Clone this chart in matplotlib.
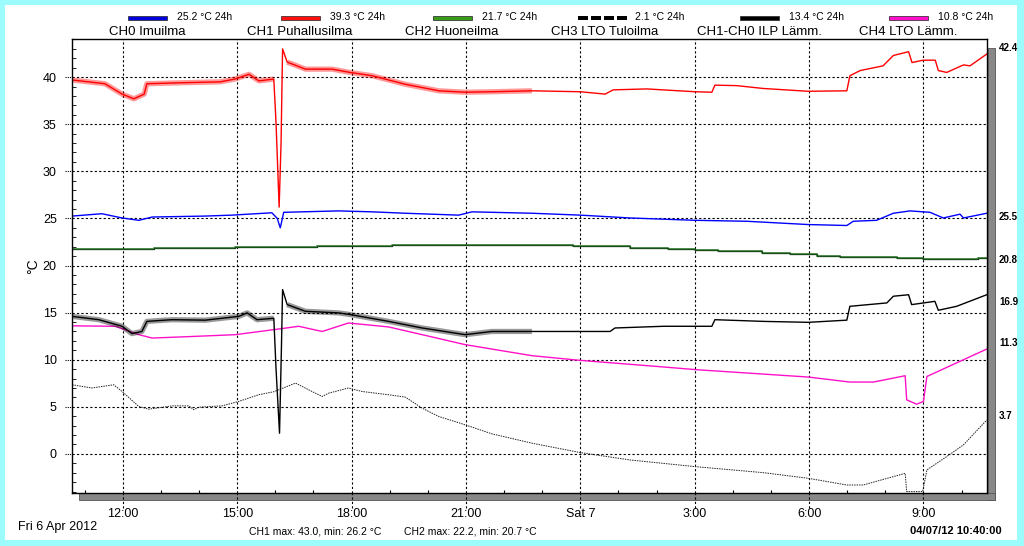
import matplotlib
matplotlib.use('Agg')
from matplotlib import pyplot as plt
from matplotlib.patches import Rectangle
from matplotlib.transforms import blended_transform_factory
import numpy as np

plt.rcParams['font.family'] = ['Liberation Sans', 'DejaVu Sans']

# time axis in hours of Fri 6 Apr (24 = Sat 7 0:00), window 10:40 .. 10:40
t_start = 10 + 40 / 60
t_end = t_start + 24

# CH0 Imuilma (blue)
ch0_t = [10.67, 11.45, 11.98, 12.42, 12.77, 14.16, 14.86, 15.91, 16.05, 16.13, 16.22,
         17.66, 18.54, 19.41, 20.81, 21.16, 22.73, 24.0, 25.3, 27.01, 28.36, 29.98,
         30.99, 31.16, 31.77, 32.21, 32.65, 33.17, 33.52, 33.96, 34.05, 34.66]
ch0_v = [25.25, 25.5, 25.05, 24.8, 25.15, 25.25, 25.35, 25.6, 25.0, 24.0, 25.65,
         25.8, 25.7, 25.55, 25.35, 25.7, 25.55, 25.35, 25.05, 24.8, 24.7, 24.35,
         24.25, 24.7, 24.8, 25.55, 25.8, 25.65, 25.05, 25.45, 25.05, 25.55]

# CH1 Puhallusilma (red)
ch1_t = [10.67, 11.53, 11.98, 12.29, 12.56, 12.63, 13.5, 14.55, 14.94, 15.31, 15.57,
         15.96, 16.02, 16.10, 16.15, 16.19, 16.31, 16.79, 17.49, 17.96, 18.54, 19.40,
         20.29, 20.98, 21.69, 22.73, 24.0, 24.65, 24.86, 25.74, 27.01, 27.45, 27.53,
         28.10, 28.79, 29.97, 30.99, 31.07, 31.34, 31.94, 32.21, 32.61, 32.70, 32.99,
         33.31, 33.39, 33.61, 34.05, 34.22, 34.66]
ch1_v = [39.7, 39.3, 38.2, 37.7, 38.2, 39.3, 39.4, 39.5, 39.8, 40.3, 39.6,
         39.8, 35.0, 26.2, 33.0, 43.0, 41.6, 40.85, 40.85, 40.5, 40.15, 39.25,
         38.55, 38.4, 38.45, 38.55, 38.45, 38.2, 38.65, 38.75, 38.45, 38.4, 39.15,
         39.1, 38.8, 38.5, 38.55, 40.15, 40.7, 41.2, 42.3, 42.7, 41.55, 41.8,
         41.8, 40.7, 40.5, 41.3, 41.2, 42.45]

# CH2 Huoneilma (green, stepped)
ch2_t = [10.67, 11.9, 12.81, 14.95, 17.09, 19.06, 23.82, 25.3, 26.31, 27.01, 27.62,
         28.76, 29.5, 30.2, 30.81, 32.3, 33.0, 34.44, 34.67]
ch2_v = [21.78, 21.8, 21.9, 21.95, 22.05, 22.16, 22.05, 21.88, 21.78, 21.7, 21.5,
         21.35, 21.25, 21.06, 20.9, 20.8, 20.66, 20.75, 20.75]

# CH3 LTO Tuloilma (black dashed)
ch3_t = [10.67, 11.19, 11.76, 11.98, 12.42, 12.68, 13.29, 13.73, 13.86, 13.99, 14.6,
         15.04, 15.56, 15.96, 16.53, 16.96, 17.23, 17.4, 17.92, 18.27, 18.97, 19.41,
         19.85, 20.29, 20.98, 21.68, 22.73, 24.0, 25.3, 27.01, 28.8, 29.98, 30.99,
         31.42, 32.52, 32.56, 32.98, 33.09, 33.61, 34.05, 34.66]
ch3_v = [7.34, 7.0, 7.34, 6.63, 5.03, 4.75, 5.1, 5.1, 4.7, 4.96, 5.1,
         5.57, 6.28, 6.6, 7.52, 6.63, 6.1, 6.45, 7.0, 6.63, 6.28, 6.03,
         4.86, 3.97, 3.09, 2.13, 1.14, 0.14, -0.64, -1.35, -1.99, -2.59, -3.3,
         -3.3, -2.06, -4.0, -4.0, -1.7, -0.28, 0.96, 3.6]

# CH1-CH0 ILP Lamm. (black)
dif_t = [10.67, 11.37, 11.98, 12.24, 12.5, 12.63, 13.29, 14.16, 15.04, 15.26, 15.52,
         15.96, 16.02, 16.11, 16.16, 16.19, 16.31, 16.79, 17.66, 17.97, 18.97, 19.85,
         20.98, 21.68, 22.73, 24.0, 24.78, 24.91, 26.18, 27.45, 27.53, 28.80, 29.98,
         30.99, 31.07, 32.04, 32.21, 32.61, 32.69, 33.30, 33.39, 33.87, 34.66]
dif_v = [14.6, 14.25, 13.55, 12.77, 13.0, 14.07, 14.25, 14.2, 14.6, 14.97, 14.25,
         14.4, 8.9, 2.2, 11.3, 17.45, 15.85, 15.14, 14.97, 14.79, 14.07, 13.37,
         12.66, 13.0, 13.0, 13.0, 13.0, 13.37, 13.55, 13.55, 14.25, 14.07, 13.97,
         14.2, 15.67, 16.03, 16.74, 16.9, 15.85, 16.2, 15.25, 15.67, 16.9]

# CH4 LTO Lamm. (magenta)
ch4_t = [10.67, 11.8, 12.42, 12.77, 13.9, 14.95, 16.09, 16.61, 17.23, 17.92, 18.97,
         19.85, 20.98, 22.73, 24.0, 26.0, 27.05, 29.98, 31.07, 31.69, 32.52, 32.56,
         32.82, 33.0, 33.09, 34.05, 34.66]
ch4_v = [13.6, 13.55, 12.66, 12.3, 12.48, 12.66, 13.26, 13.55, 13.0, 13.9, 13.48,
         12.66, 11.6, 10.43, 9.93, 9.29, 8.94, 8.16, 7.63, 7.63, 8.3, 5.74,
         5.28, 5.57, 8.22, 10.0, 11.13]

# periods where CH1 and CH1-CH0 oscillate (compressor cycling)
ripple_periods = [(10.67, 15.96), (16.31, 22.73)]

names = ['CH0 Imuilma', 'CH1 Puhallusilma', 'CH2 Huoneilma',
         'CH3 LTO Tuloilma', 'CH1-CH0 ILP Lämm.', 'CH4 LTO Lämm.']
avg24 = ['25.2 °C 24h', '39.3 °C 24h', '21.7 °C 24h',
         '2.1 °C 24h', '13.4 °C 24h', '10.8 °C 24h']
last_labels = ['42.4', '25.5', '20.8', '16.9', '11.3', '3.7']
last_label_y = [43.1, 25.1, 20.6, 16.1, 11.8, 4.0]

xtick_pos = [12, 15, 18, 21, 24, 27, 30, 33]
xtick_lab = ['12:00', '15:00', '18:00', '21:00', 'Sat 7', '3:00', '6:00', '9:00']

W, H = 1024, 546
def fx(px):
    return px / W
def fy(py):
    return 1 - py / H

fig = plt.figure(figsize=(10.24, 5.46), dpi=100, facecolor='#9cfcfc')
fig.patches.append(Rectangle((fx(5), fy(540)), fx(1012), 535 / H, transform=fig.transFigure,
                             facecolor='white', edgecolor='none', zorder=-5))
# drop shadow of the plot frame
fig.patches.append(Rectangle((fx(988), fy(500)), fx(7), 452 / H, transform=fig.transFigure,
                             facecolor='#888888', edgecolor='#555555', lw=0.6, zorder=-4))
fig.patches.append(Rectangle((fx(79), fy(500)), fx(916), 7 / H, transform=fig.transFigure,
                             facecolor='#888888', edgecolor='#555555', lw=0.6, zorder=-4))

ax = fig.add_axes([fx(72), fy(493), fx(915), 454 / H])
ax.set_zorder(3)
ax.set_xlim(t_start, t_end)
ax.set_ylim(-4.15, 44.05)

ax.plot(ch2_t, ch2_v, color='black', lw=0.9, drawstyle='steps-post')
ax.plot(ch2_t, ch2_v, color='#1e6e1e', lw=1.4, drawstyle='steps-post', alpha=0.75)
ax.plot(ch3_t, ch3_v, color='#222222', lw=0.7, linestyle=(0, (1.5, 1)))
ax.plot(ch4_t, ch4_v, color='#ff10c8', lw=1.0)
ax.plot(ch0_t, ch0_v, color='#0000ff', lw=1.0)
ax.plot(dif_t, dif_v, color='black', lw=1.0)
ax.plot(ch1_t, ch1_v, color='#ff0000', lw=1.0)

# the fast oscillation shows as a band around the line
for tt, vv, col in [(ch1_t, ch1_v, '#ff0000'), (dif_t, dif_v, 'black')]:
    tt = np.array(tt)
    vv = np.array(vv)
    for a, b in ripple_periods:
        m = (tt >= a) & (tt <= b)
        ax.plot(tt[m], vv[m], color=col, lw=3.8, alpha=0.4, solid_capstyle='butt')

ax.set_xticks(xtick_pos)
ax.set_xticklabels(xtick_lab, fontsize=9)
ax.set_xticks(np.arange(11, 35), minor=True)
ax.set_yticks(range(0, 45, 5))
ax.set_yticks(range(-4, 45), minor=True)
ax.tick_params(axis='x', which='major', length=0, pad=11)
ax.tick_params(axis='x', which='minor', direction='in', length=2, width=0.8)
ax.tick_params(axis='y', which='major', length=0, pad=11, labelsize=9)
ax.tick_params(axis='y', which='minor', direction='in', length=3, width=0.6)
ax.grid(which='major', color='black', linestyle=(0, (2, 2)), linewidth=0.8)
for s in ax.spines.values():
    s.set_linewidth(1.0)

# grid lines continue outside the frame
tr_x = blended_transform_factory(ax.transData, ax.transAxes)
ax.vlines(xtick_pos, -0.033, 0, transform=tr_x, color='black', lw=0.8,
          linestyle=(0, (2, 2)), clip_on=False)
tr_y = blended_transform_factory(ax.transAxes, ax.transData)
ax.hlines(range(0, 45, 5), -0.008, 0, transform=tr_y, color='black', lw=0.8,
          linestyle=(0, (1, 1)), clip_on=False)

ax.set_ylabel('°C', fontsize=10, labelpad=2)

# right side last values
for lab, yy in zip(last_labels, last_label_y):
    ax.text(1.013, yy, lab, transform=tr_y, fontsize=7, fontweight='bold',
            va='center', ha='left')

# legend row
centers = [147, 300, 452, 605, 759, 908]
sw_colors = ['#0000dd', '#ff1010', '#3a9a1a', None, 'black', '#ff10c8']
for c, col, nm, av in zip(centers, sw_colors, names, avg24):
    if col is None:
        for k in range(4):
            fig.patches.append(Rectangle((fx(c - 27 + k * 13), fy(20)), fx(10), 4 / H,
                                         transform=fig.transFigure, facecolor='black',
                                         edgecolor='none'))
    else:
        fig.patches.append(Rectangle((fx(c - 19), fy(20)), fx(39), 4.5 / H,
                                     transform=fig.transFigure, facecolor=col,
                                     edgecolor='#222222', lw=0.5))
    fig.text(fx(c + 30), fy(17.5), av, fontsize=7.5, va='center', ha='left')
    fig.text(fx(c), fy(32), nm, fontsize=9.5, va='center', ha='center')

fig.text(fx(18), fy(527), 'Fri 6 Apr 2012', fontsize=9, va='center', ha='left')
fig.text(fx(249), fy(531), 'CH1 max: 43.0, min: 26.2 °C', fontsize=7.5, va='center', ha='left')
fig.text(fx(404), fy(531), 'CH2 max: 22.2, min: 20.7 °C', fontsize=7.5, va='center', ha='left')
fig.text(fx(1002), fy(531), '04/07/12 10:40:00', fontsize=8, fontweight='bold',
         va='center', ha='right')

plt.savefig('out.png', dpi=100, facecolor=fig.get_facecolor())
